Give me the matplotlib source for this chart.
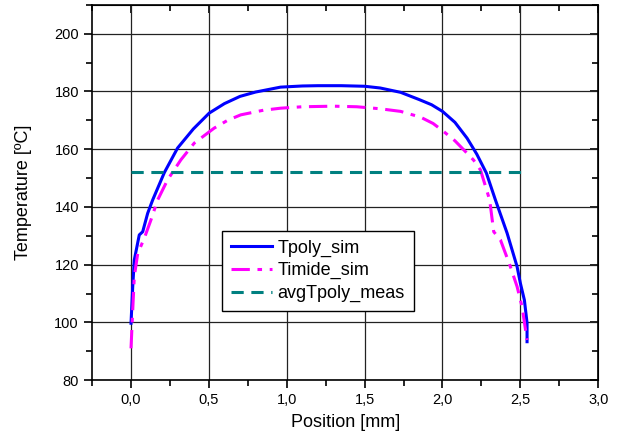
import matplotlib
matplotlib.use("Agg")
import matplotlib.pyplot as plt
from matplotlib.ticker import MultipleLocator, FuncFormatter, NullFormatter

plt.rcParams['font.family'] = ['Liberation Sans', 'DejaVu Sans']

# Data
tpoly_x = [0.0, 0.011, 0.021, 0.053, 0.075, 0.107, 0.139, 0.214, 0.299, 0.40, 0.502, 0.60, 0.70,
           0.80, 0.96, 1.1, 1.2, 1.35, 1.5, 1.6, 1.731, 1.85, 1.93, 2.0, 2.08, 2.158, 2.22, 2.282,
           2.34, 2.415, 2.479, 2.50, 2.526, 2.543, 2.543]
tpoly_y = [99.7, 112.4, 121.6, 130.3, 131.4, 137.8, 142.4, 151.9, 160.4, 167.0, 172.5, 175.8, 178.3,
           179.8, 181.5, 181.9, 182.0, 182.0, 181.8, 181.2, 179.7, 177.2, 175.4, 173.1, 169.3, 163.8,
           158.3, 151.7, 142.4, 130.9, 119.3, 113.6, 107.7, 99.8, 93.3]

timide_x = [0.0, 0.011, 0.021, 0.043, 0.085, 0.128, 0.171, 0.235, 0.32, 0.406, 0.534, 0.62, 0.705,
            0.85, 0.96, 1.1, 1.3, 1.45, 1.6, 1.731, 1.859, 1.94, 2.008, 2.08, 2.147, 2.2, 2.244,
            2.303, 2.329, 2.372, 2.436, 2.479, 2.511, 2.543]
timide_y = [91.0, 104.3, 115.8, 123.9, 129.1, 135.5, 142.4, 149.4, 156.3, 162.1, 167.3, 170.0, 171.9,
            173.5, 174.2, 174.7, 174.9, 174.7, 174.0, 173.1, 171.1, 168.9, 166.1, 162.9, 159.2, 156.2,
            152.8, 142.4, 131.4, 128.6, 119.3, 112.4, 105.4, 93.9]

meas_x = [0.0, 2.52]
meas_y = [152.0, 152.0]

fig = plt.figure(figsize=(6.18, 4.43), dpi=100)
ax = fig.add_axes([0.149, 0.142, 0.819, 0.847])

ax.plot(tpoly_x, tpoly_y, color='#0000ff', lw=2.2, label='Tpoly_sim', zorder=3)
ax.plot(timide_x, timide_y, color='#ff00ff', lw=2.2, dashes=[6, 2.5, 1.5, 2.5], label='Timide_sim', zorder=3)
ax.plot(meas_x, meas_y, color='#008080', lw=2.2, dashes=[4, 2.5], label='avgTpoly_meas', zorder=3)

ax.set_xlim(-0.25, 3.0)
ax.set_ylim(80, 210)
ax.xaxis.set_major_locator(MultipleLocator(0.5))
ax.xaxis.set_minor_locator(MultipleLocator(0.25))
ax.yaxis.set_major_locator(MultipleLocator(20))
ax.yaxis.set_minor_locator(MultipleLocator(10))
ax.xaxis.set_major_formatter(FuncFormatter(lambda v, p: f"{v:.1f}".replace('.', ',')))
ax.set_yticks([80, 100, 120, 140, 160, 180, 200])

ax.grid(True, which='major', color='#222222', lw=0.9)
ax.set_axisbelow(True)
for s in ax.spines.values():
    s.set_linewidth(1.2)

ax.tick_params(axis='both', which='both', direction='out', labelsize=10.5, width=1.2)
ax.tick_params(which='major', length=6)
ax.tick_params(which='minor', length=4)

# inward ticks on top and right
top = ax.secondary_xaxis('top')
top.xaxis.set_major_locator(MultipleLocator(0.5))
top.xaxis.set_minor_locator(MultipleLocator(0.25))
top.xaxis.set_major_formatter(NullFormatter())
top.tick_params(which='both', direction='in', width=1.2)
top.tick_params(which='major', length=6)
top.tick_params(which='minor', length=4)
right = ax.secondary_yaxis('right')
right.yaxis.set_major_locator(MultipleLocator(20))
right.yaxis.set_minor_locator(MultipleLocator(10))
right.yaxis.set_major_formatter(NullFormatter())
right.tick_params(which='both', direction='in', width=1.2)
right.tick_params(which='major', length=6)
right.tick_params(which='minor', length=4)

ax.set_xlabel('Position [mm]', fontsize=13, labelpad=5)
ax.set_ylabel('Temperature [ºC]', fontsize=13, labelpad=16)

leg = ax.legend(loc='lower left', bbox_to_anchor=(0.256, 0.184), fontsize=13, frameon=True,
                fancybox=False, edgecolor='black', framealpha=1, handlelength=2.3,
                borderpad=0.5, labelspacing=0.3, handletextpad=0.3, borderaxespad=0)
leg.get_frame().set_linewidth(1.0)

fig.savefig('out.png', dpi=100)
